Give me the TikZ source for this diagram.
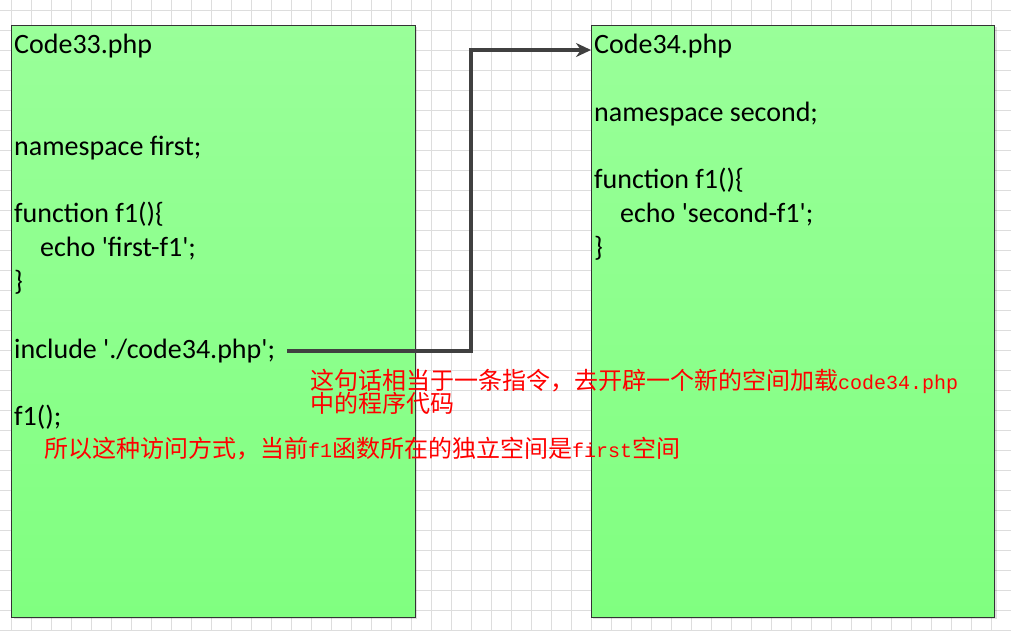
\documentclass[tikz,border=0pt]{standalone}
\usepackage{fontspec}
\setmainfont{Carlito}
\newfontfamily\cjk{Noto Sans CJK SC}
\newfontfamily\latmono{Liberation Mono}
\usetikzlibrary{positioning,shadows,arrows.meta}
\newcommand{\halfw}[1]{{\latmono\fontsize{20}{24}\selectfont #1}}
\newcommand{\sq}{\textquotesingle}
\definecolor{boxtop}{HTML}{99FF99}
\definecolor{boxbot}{HTML}{80FF80}
\definecolor{gridgray}{HTML}{DDDDDD}
\definecolor{linkgray}{HTML}{404040}
\tikzset{
  codebox/.style={draw=black!80, line width=1pt, top color=boxtop, bottom color=boxbot,
    anchor=north west, inner sep=0pt, outer sep=0pt,
    minimum width=403.5pt, minimum height=592.3pt,
    drop shadow={shadow xshift=2pt, shadow yshift=-2pt, fill=black, opacity=0.12}},
  codeline/.style={anchor=base west, inner sep=0pt, font=\fontsize{28}{34}\selectfont},
  note/.style={anchor=base west, inner sep=0pt, text=red, font=\cjk\fontsize{24}{24}\selectfont},
  link/.style={line width=3.5pt, draw=linkgray, -{Stealth[length=15pt,width=14pt]}}
}

\begin{document}
\begin{tikzpicture}[x=1pt,y=-1pt]
\useasboundingbox (0,0) rectangle (1011,630);
% background grid
\foreach \gx in {11.7,31.7,...,1011} \draw[gridgray,line width=1pt] (\gx,0) -- (\gx,630);
\foreach \gy in {10,30,...,630} \draw[gridgray,line width=1pt] (0,\gy) -- (1011,\gy);

% the two files
\node[codebox] (left) at (11.7,25) {};
\node[codebox] (right) at (591,25) {};

% Code33.php
\node[codeline] (t1) at (14,53.5) {Code33.php};
\node[codeline] (ns1) at (14,155.5) {namespace first;};
\node[codeline] (fn1) at (14,222.5) {function f1()\{};
\node[codeline] (echo1) at (40,256.5) {echo \sq first-f1\sq;};
\node[codeline] (cl1) at (14,290.5) {\}};
\node[codeline] (inc) at (14,358.5) {include \sq./code34.php\sq;};
\node[codeline] (call) at (14,425.5) {f1();};

% Code34.php
\node[codeline] (t2) at (594,53.5) {Code34.php};
\node[codeline] (ns2) at (594,121.5) {namespace second;};
\node[codeline] (fn2) at (594,188.5) {function f1()\{};
\node[codeline] (echo2) at (620,222.5) {echo \sq second-f1\sq;};
\node[codeline] (cl2) at (594,256.5) {\}};

% remarks
\node[note] (r1) at (310,389) {这句话相当于一条指令，去开辟一个新的空间加载\halfw{code34.php}};
\node[note] (r2) at (310,412.5) {中的程序代码};
\node[note] (r3) at (44,457) {所以这种访问方式，当前\halfw{f1}函数所在的独立空间是\halfw{first}空间};

% include arrow
\coordinate (start) at ([xshift=12pt]inc.east);
\coordinate (bend) at (471,50);
\draw[link] (start) -- (start -| bend) -- (bend) -- (right.west |- bend);
\end{tikzpicture}
\end{document}
